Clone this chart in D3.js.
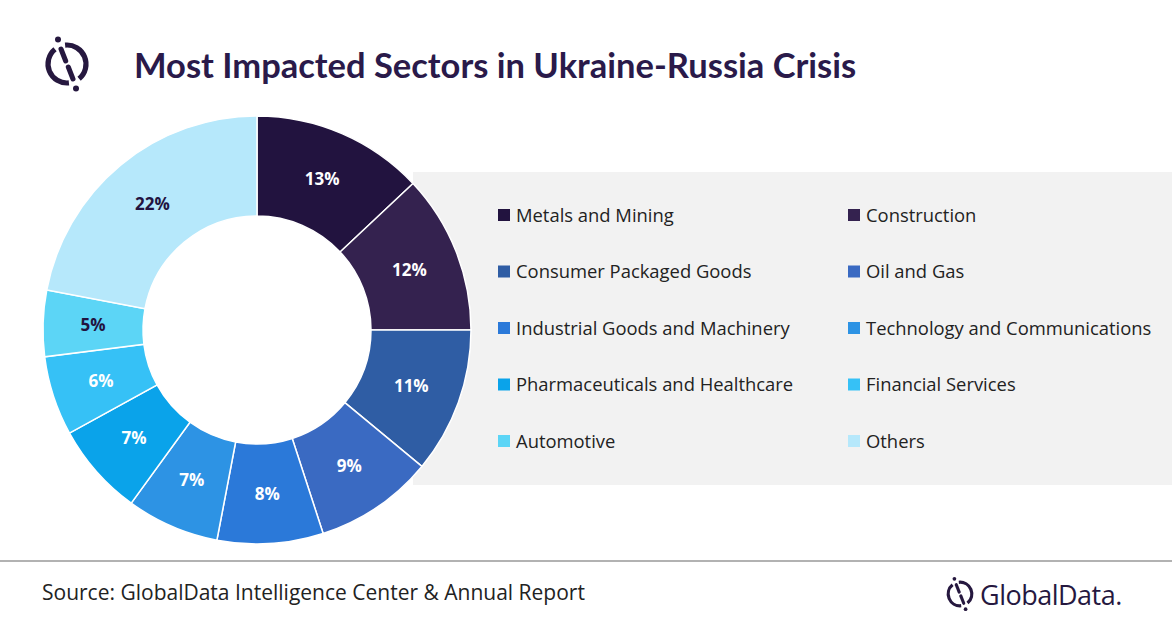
<!DOCTYPE html>
<html><head><meta charset="utf-8">
<script src="https://cdn.jsdelivr.net/npm/d3@7"></script>
<style>body{margin:0;background:#fff;}svg{display:block;font-family:"Open Sans",sans-serif;}</style>
</head><body><svg id="c" width="1172" height="628"></svg>
<script>
var sectors = ["Metals and Mining","Construction","Consumer Packaged Goods","Oil and Gas","Industrial Goods and Machinery","Technology and Communications","Pharmaceuticals and Healthcare","Financial Services","Automotive","Others"];
var shares = [13,12,11,9,8,7,7,6,5,22];
var colors = ["#22133f","#34224f","#2f5da4","#3a6ac2","#2b79d9","#2d93e4","#0aa3ea","#36c1f6","#5cd5f6","#b6e8fb"];

var svg = d3.select("#c");
var ink = "#26183f";

// logo
function logo(g, s) {
	var ring = d3.arc().innerRadius(19*s-2.6*s).outerRadius(19*s+2.6*s);
	g.append("path").attr("d", ring({startAngle:-0.1, endAngle:2.45})).attr("fill", ink);
	g.append("path").attr("d", ring({startAngle:3.04, endAngle:5.6})).attr("fill", ink);
	g.append("line").attr("x1",-6*s).attr("y1",-15*s).attr("x2",-1.3*s).attr("y2",-3*s).attr("stroke",ink).attr("stroke-width",5*s).attr("stroke-linecap","round");
	g.append("line").attr("x1",1.3*s).attr("y1",3*s).attr("x2",6*s).attr("y2",15*s).attr("stroke",ink).attr("stroke-width",5*s).attr("stroke-linecap","round");
	g.append("circle").attr("cx",-9*s).attr("cy",-24.5*s).attr("r",3*s).attr("fill",ink);
	g.append("circle").attr("cx",9*s).attr("cy",24.5*s).attr("r",3*s).attr("fill",ink);
}
logo(svg.append("g").attr("transform","translate(67,64)"), 1);

svg.append("text").attr("x",134).attr("y",78).attr("font-size",34.5).attr("font-weight",700)
	.attr("fill","#2a1a4a").attr("font-family","Lato, sans-serif").text("Most Impacted Sectors in Ukraine-Russia Crisis");

// legend panel
svg.append("rect").attr("x",413).attr("y",172).attr("width",759).attr("height",313).attr("fill","#f2f2f2");

var lg = svg.append("g").selectAll("g").data(sectors).join("g")
	.attr("transform", function(d,i){ return "translate(" + (i%2 ? 848 : 498) + "," + (215 + Math.floor(i/2)*56.5) + ")"; });
lg.append("rect").attr("x",0).attr("y",-6).attr("width",12).attr("height",12).attr("fill",function(d,i){return colors[i];});
lg.append("text").attr("x",18).attr("y",6.5).attr("font-size",18.4).attr("fill","#222").text(function(d){return d;});

// donut
var cx = 257, cy = 330, ro = 214, ri = 114;
var pie = d3.pie().sort(null).value(function(d){return d;});
var arc = d3.arc().innerRadius(ri).outerRadius(ro);
var lab = d3.arc().innerRadius((ri+ro)/2).outerRadius((ri+ro)/2);
var g = svg.append("g").attr("transform","translate("+cx+","+cy+")");
var arcs = pie(shares);
g.selectAll("path").data(arcs).join("path").attr("d",arc)
	.attr("fill",function(d,i){return colors[i];}).attr("stroke","#fff").attr("stroke-width",1.5);
g.selectAll("text").data(arcs).join("text")
	.attr("transform",function(d){return "translate("+lab.centroid(d)+")";})
	.attr("text-anchor","middle").attr("dy","0.35em").attr("font-size",17).attr("font-weight",700)
	.attr("fill",function(d,i){return i>=8 ? "#22133f" : "#fff";})
	.text(function(d){return d.data + "%";});

// footer
svg.append("line").attr("x1",0).attr("x2",1172).attr("y1",561).attr("y2",561).attr("stroke","#999").attr("stroke-width",1.5);
svg.append("text").attr("x",42).attr("y",600).attr("font-size",21).attr("fill","#222")
	.text("Source: GlobalData Intelligence Center & Annual Report");
logo(svg.append("g").attr("transform","translate(960,594)"), 0.62);
svg.append("text").attr("x",980).attr("y",605).attr("font-size",27).attr("fill",ink).attr("letter-spacing",-0.5)
	.text("GlobalData.");
</script></body></html>
